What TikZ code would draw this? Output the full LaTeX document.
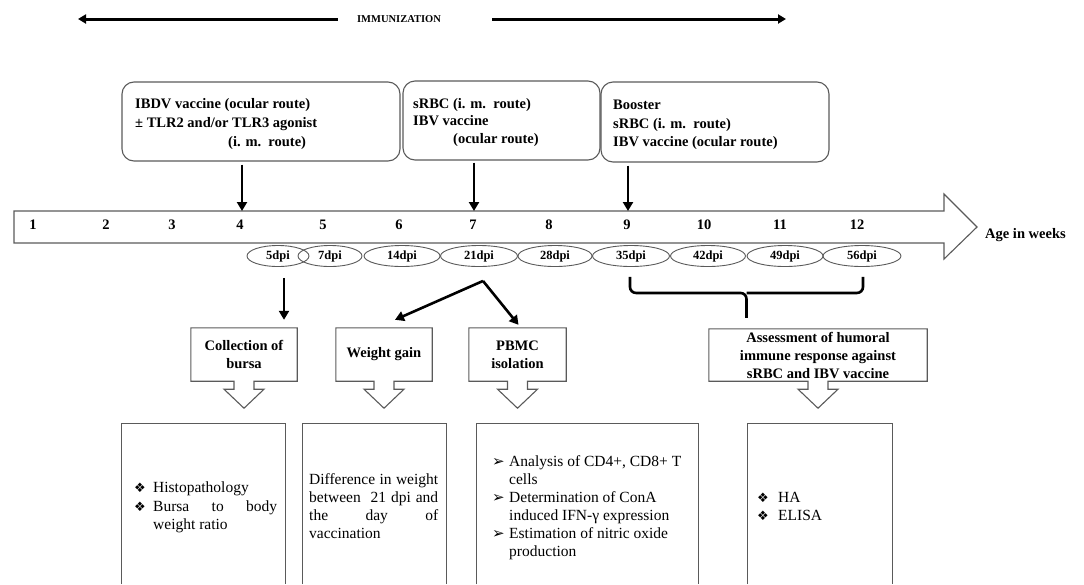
\documentclass[tikz,border=0pt]{standalone}
\usepackage{fontspec}
\setmainfont{Liberation Serif}
\newfontfamily\djv{DejaVu Sans}
\usetikzlibrary{arrows.meta,calc,shapes.geometric}
\definecolor{ol}{RGB}{90,90,90}
\newcommand\calloutpath[1]{%
 \draw[outline] (#1.south west) -- (#1.north west) -- (#1.north east) -- (#1.south east)
   -- ($(#1.south)+(10,0)$) -- ++(0,8) -- ++(10,0) -- ($(#1.south)+(0,27)$)
   -- ($(#1.south)+(-20,8)$) -- ++(10,0) -- ($(#1.south)+(-10,0)$) -- cycle;}
\newcommand\openbox[1]{%
 \draw[outline] (#1.south west) -- (#1.north west) -- (#1.north east) -- (#1.south east);}
\begin{document}
\begin{tikzpicture}[x=1pt,y=-1pt,
  outline/.style={draw=ol,line width=1.1pt},
  topbox/.style={outline,rounded corners=12pt,inner sep=0pt},
  lb/.style={font=\fontsize{14.5}{19}\selectfont\bfseries,inner sep=0pt,anchor=base west},
  num/.style={font=\fontsize{14.5}{19}\selectfont\bfseries,inner sep=0pt,anchor=base},
  dpi/.style={ellipse,outline,line width=0.9pt,minimum height=21pt,inner sep=0pt,font=\fontsize{12.5}{14}\selectfont\bfseries},
  arr/.style={line width=2.6pt,-{Triangle[length=9pt,width=10pt]}},
  tarr/.style={line width=3pt,-{Triangle[length=8pt,width=9pt]}},
  cbox/.style={inner sep=0pt,align=center,font=\fontsize{14.5}{18}\selectfont\bfseries},
  bbox/.style={inner sep=0pt,minimum height=160pt},
  reg/.style={font=\fontsize{15.5}{18}\selectfont,inner sep=0pt,anchor=base west},
  bul/.style={font=\djv\fontsize{13}{18}\selectfont,inner sep=0pt,anchor=base west},
  abul/.style={font=\djv\fontsize{15}{18}\selectfont,inner sep=0pt,anchor=base west},
  brace/.style={line width=2.6pt,rounded corners=6pt},
]
\useasboundingbox (0,0) rectangle (1084,584);

% immunization
\node[font=\fontsize{10.5}{12}\selectfont\bfseries,inner sep=0pt] (imm) at (399,19) {IMMUNIZATION};
\coordinate (immL) at (78,19);
\coordinate (immR) at (786,19);
\draw[tarr] ($(imm.west)+(-19,0)$) -- (immL);
\draw[tarr] ($(imm.east)+(51,0)$) -- (immR);

% top boxes
\node[topbox,minimum width=278pt,minimum height=79pt] (b1) at (261,121.5) {};
\node[lb] (t11) at (135,108) {IBDV vaccine (ocular route)};
\node[lb] (t12) at (135,127) {± TLR2 and/or TLR3 agonist};
\node[lb] (t13) at (228,146) {(i. m.\ \ route)};

\node[topbox,minimum width=197pt,minimum height=79pt] (b2) at (501.5,120.5) {};
\node[lb] (t21) at (413,108) {sRBC (i. m.\ \ route)};
\node[lb] (t22) at (413,125) {IBV vaccine};
\node[lb] (t23) at (453,143) {(ocular route)};

\node[topbox,minimum width=228pt,minimum height=80pt] (b3) at (715,122) {};
\node[lb] (t31) at (613,109) {Booster};
\node[lb] (t32) at (613,128) {sRBC (i. m.\ \ route)};
\node[lb] (t33) at (613,146) {IBV vaccine (ocular route)};

% timeline
\draw[outline] (14,211) -- (944,211) -- (944,194) -- (977,227) -- (944,259) -- (944,243) -- (14,243) -- cycle;
\coordinate (tl) at (14,211);
\node[lb,anchor=west] (age) at (985,235) {Age in weeks};
\foreach \n/\x in {1/33,2/106,3/172,4/240,5/323,6/399,7/473,8/549,9/627,10/704,11/780,12/857}
  \node[num] (n\n) at (\x,229) {\n};

% arrows into timeline
\draw[arr] ($(b1.south -| n4)+(2,3)$) -- ($(n4 |- tl)+(2,0)$);
\draw[arr] ($(b2.south -| n7)+(1,2)$) -- ($(n7 |- tl)+(1,0)$);
\draw[arr] ($(b3.south -| n9)+(1,3)$) -- ($(n9 |- tl)+(1,0)$);

% dpi ellipses
\node[dpi,minimum width=62pt] (e5) at (278,256) {5dpi};
\node[dpi,minimum width=64pt] (e7) at (330,256) {7dpi};
\node[dpi,minimum width=76pt] (e14) at (402,256) {14dpi};
\node[dpi,minimum width=77pt] (e21) at (479,256) {21dpi};
\node[dpi,minimum width=74pt] (e28) at (555,256) {28dpi};
\node[dpi,minimum width=77pt] (e35) at (631,256) {35dpi};
\node[dpi,minimum width=75pt] (e42) at (708,256) {42dpi};
\node[dpi,minimum width=76pt] (e49) at (785,256) {49dpi};
\node[dpi,minimum width=78pt] (e56) at (862,256) {56dpi};

% callout boxes
\node[cbox,minimum width=106pt,minimum height=53pt] (cb) at (244,354.5) {Collection of\\bursa};
\node[cbox,minimum width=96pt,minimum height=53pt] (cw) at (384,354.5) {Weight gain};
\node[cbox,minimum width=97pt,minimum height=53pt] (cp) at (517.5,354.5) {PBMC\\isolation};
\node[cbox,minimum width=218pt,minimum height=52pt] (ca) at (818,355) {Assessment of humoral\\immune response against\\sRBC and IBV vaccine};
\calloutpath{cb}
\calloutpath{cw}
\calloutpath{cp}
\calloutpath{ca}

% arrows from dpi
\draw[arr] ($(e5.south)+(6,11)$) -- ($(cb.north -| e5.south)+(6,-8)$);
\coordinate (apex) at ($(e21.south)+(4,14)$);
\draw[arr] (apex) -- ($(cw.north)+(11,-8)$);
\draw[arr] (apex) -- ($(cp.north)+(1,-3)$);

% brace
\coordinate (bl) at ($(e35.south)+(-1,10)$);
\coordinate (br) at ($(e56.south)+(1,10)$);
\coordinate (bm) at ($(bl)!0.5!(br)+(0,16)$);
\draw[brace] (bl) -- (bl |- bm) -- (bm) -- ($(ca.north -| bm)+(0,-11)$);
\draw[brace] (br) -- (br |- bm) -- (bm);

% bottom boxes
\node[bbox,minimum width=163pt] (ba) at (203.5,504) {};
\node[bbox,minimum width=143pt] (bb) at (374.5,504) {};
\node[bbox,minimum width=221pt] (bc) at (587.5,504) {};
\node[bbox,minimum width=144pt] (bd) at (820,504) {};
\openbox{ba}
\openbox{bb}
\openbox{bc}
\openbox{bd}

% box A text
\node[bul] (ua1) at (134,492) {❖};
\node[reg] (xa1) at (153,492) {Histopathology};
\node[bul] (ua2) at (134,511) {❖};
\node[reg] (xa2) at (153,511) {\makebox[124pt][s]{Bursa\hfill to\hfill body}};
\node[reg] (xa3) at (153,529) {weight ratio};

% box B text
\node[reg] (xb1) at (309,484) {\makebox[129pt][s]{Difference in weight}};
\node[reg] (xb2) at (309,502) {\makebox[129pt][s]{between\ \ 21 dpi and}};
\node[reg] (xb3) at (309,520) {\makebox[129pt][s]{the\hfill day\hfill of}};
\node[reg] (xb4) at (309,538) {vaccination};

% box C text
\node[abul] (uc1) at (492,466) {➢};
\node[reg] (xc1) at (509,466) {Analysis of CD4+, CD8+ T};
\node[reg] (xc2) at (509,484) {cells};
\node[abul] (uc3) at (492,502) {➢};
\node[reg] (xc3) at (509,502) {Determination of ConA};
\node[reg] (xc4) at (509,520) {induced IFN-γ expression};
\node[abul] (uc5) at (492,538) {➢};
\node[reg] (xc5) at (509,538) {Estimation of nitric oxide};
\node[reg] (xc6) at (509,556) {production};

% box D text
\node[bul] (ud1) at (757,502) {❖};
\node[reg] (xd1) at (778,502) {HA};
\node[bul] (ud2) at (757,520) {❖};
\node[reg] (xd2) at (778,520) {ELISA};
\end{tikzpicture}
\end{document}
